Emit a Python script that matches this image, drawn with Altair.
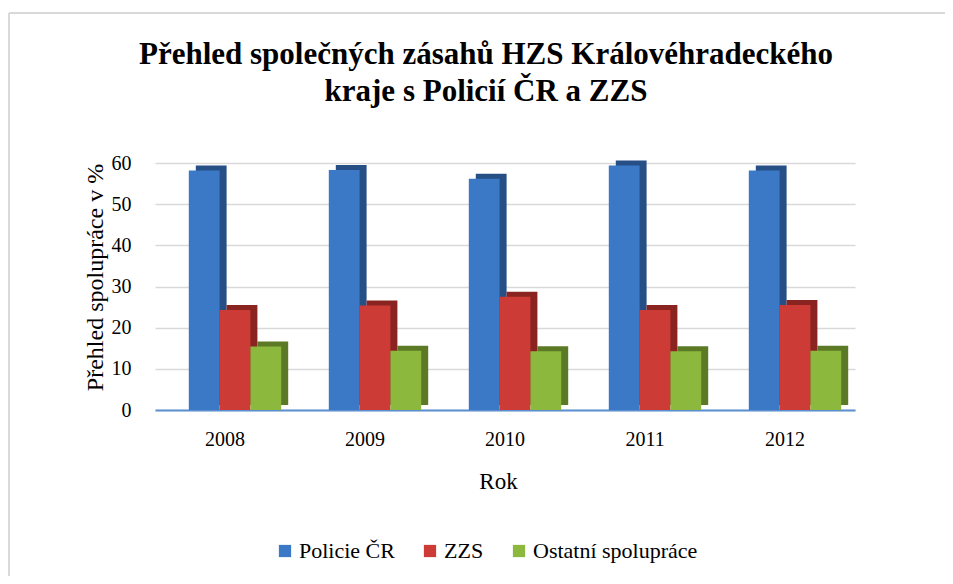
import altair as alt
import pandas as pd

years = ["2008", "2009", "2010", "2011", "2012"]
series = ["Policie ČR", "ZZS", "Ostatní spolupráce"]
policie = [58.2, 58.3, 56.2, 59.4, 58.2]
zzs = [24.3, 25.4, 27.5, 24.3, 25.5]
ostatni = [15.4, 14.4, 14.3, 14.3, 14.4]
front_colors = ["#3b78c6", "#cc3b35", "#8cb83d"]
side_colors = ["#264f86", "#8a2420", "#5c7a25"]
y_ticks = [0, 10, 20, 30, 40, 50, 60]
title_lines = ["Přehled společných zásahů HZS Královéhradeckého", "kraje s Policií ČR a ZZS"]

rows = []
for s, vals in zip(series, [policie, zzs, ostatni]):
    for y, v in zip(years, vals):
        rows.append({"Rok": y, "Série": s, "Hodnota": v})
df = pd.DataFrame(rows)

FONT = "Liberation Serif"
BAND = 140 * 0.66
SHIFT = 10

x_enc = alt.X(
    "Rok:N",
    sort=years,
    scale=alt.Scale(range=[0, 700], paddingInner=0.34, paddingOuter=0.17),
    axis=alt.Axis(
        title="Rok",
        labelAngle=0,
        labelFont=FONT,
        labelFontSize=20,
        labelColor="#000000",
        labelPadding=19,
        ticks=False,
        domain=True,
        domainColor="#5b8fd0",
        domainWidth=2,
        titleFont=FONT,
        titleFontSize=23,
        titleFontWeight="normal",
        titleColor="#000000",
        titleX=343,
        titleY=71,
        titleBaseline="middle",
        grid=False,
    ),
)
y_enc = alt.Y(
    "Hodnota:Q",
    scale=alt.Scale(domain=[0, 60], nice=False),
    axis=alt.Axis(
        title="Přehled spolupráce v %",
        values=y_ticks,
        labelFont=FONT,
        labelFontSize=20,
        labelColor="#000000",
        labelPadding=24,
        ticks=False,
        domain=False,
        gridColor="#d9d9d9",
        gridWidth=1.5,
        titleFont=FONT,
        titleFontSize=24,
        titleFontWeight="normal",
        titleColor="#000000",
        titleX=-60,
        titleY=114,
        titleAngle=270,
        titleBaseline="middle",
        titleAlign="center",
    ),
)

back = alt.Chart(df).mark_bar(yOffset=-5).encode(
    x=x_enc,
    xOffset=alt.XOffset(
        "Série:N", sort=series, scale=alt.Scale(range=[SHIFT + 7, SHIFT + 7 + BAND])
    ),
    y=y_enc,
    color=alt.Color(
        "Série:N",
        sort=series,
        scale=alt.Scale(domain=series, range=side_colors),
        legend=None,
    ),
)

front = alt.Chart(df).mark_bar().encode(
    x=x_enc,
    xOffset=alt.XOffset(
        "Série:N", sort=series, scale=alt.Scale(range=[SHIFT, SHIFT + BAND])
    ),
    y=y_enc,
    color=alt.Color(
        "Série:N",
        sort=series,
        scale=alt.Scale(domain=series, range=front_colors),
        legend=alt.Legend(
            title=None,
            orient="none",
            direction="horizontal",
            legendX=119,
            legendY=377,
            symbolType="square",
            symbolSize=150,
            symbolStrokeWidth=0,
            labelFont=FONT,
            labelFontSize=22,
            labelColor="#000000",
            labelOffset=3,
            labelLimit=400,
            columnPadding=24,
        ),
    ),
)

title1 = alt.Chart(pd.DataFrame({"t": [title_lines[0]]})).mark_text(
    font=FONT, fontSize=31, fontWeight="bold", color="#000000",
    align="center", baseline="alphabetic"
).encode(text="t:N", x=alt.value(331), y=alt.value(-99))
title2 = alt.Chart(pd.DataFrame({"t": [title_lines[1]]})).mark_text(
    font=FONT, fontSize=31, fontWeight="bold", color="#000000",
    align="center", baseline="alphabetic"
).encode(text="t:N", x=alt.value(331), y=alt.value(-62))

frame_left = alt.Chart(pd.DataFrame({"k": [0]})).mark_rule(
    color="#d9d9d9", strokeWidth=2
).encode(x=alt.value(-146), y=alt.value(-150), y2=alt.value(440))
frame_top = alt.Chart(pd.DataFrame({"k": [0]})).mark_rule(
    color="#d9d9d9", strokeWidth=2
).encode(x=alt.value(-146), x2=alt.value(820), y=alt.value(-150))

chart = alt.layer(frame_left, frame_top, title1, title2, back, front).resolve_scale(
    color="independent", xOffset="independent"
).properties(
    width=750,
    height=247,
    autosize=alt.AutoSizeParams(type="none"),
    padding={"left": 147, "top": 155, "right": 40, "bottom": 166},
    view=alt.ViewBackground(stroke="transparent", strokeWidth=0),
).configure_view(strokeWidth=0, stroke="transparent").configure_legend(
    labelFont=FONT, labelLimit=400
).configure(background="#ffffff")

chart.save("out.html", embed_options={"renderer": "svg", "actions": False})
